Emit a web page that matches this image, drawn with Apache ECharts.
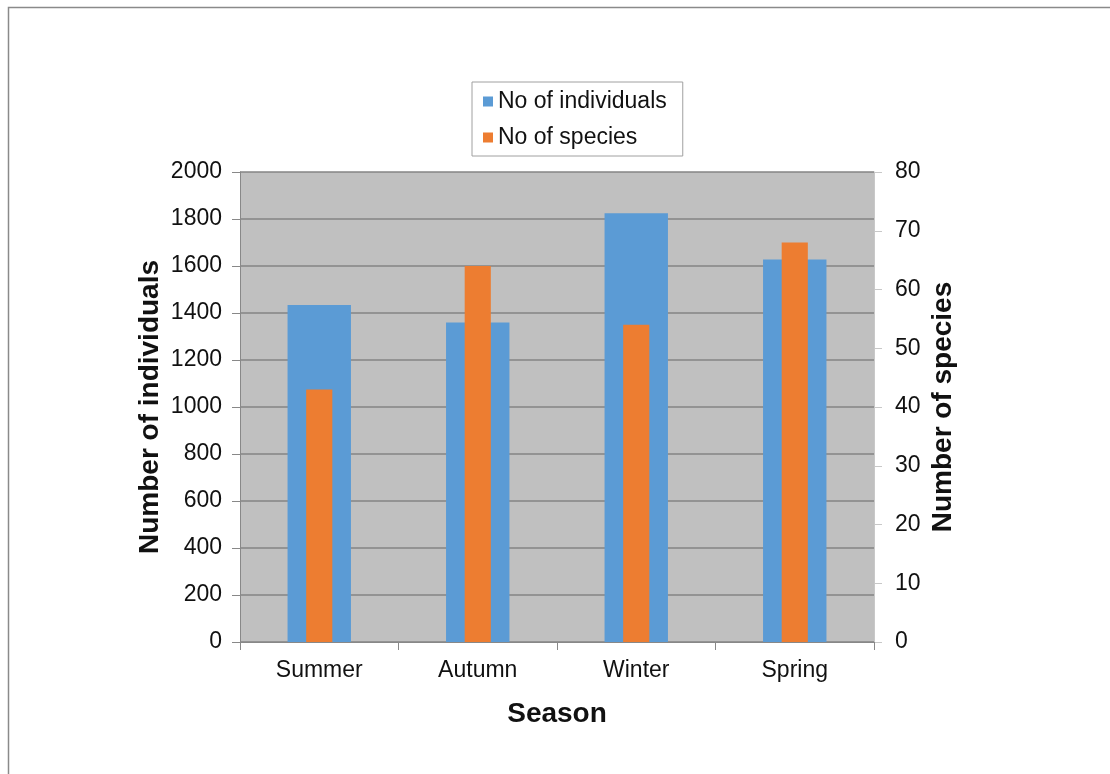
<!DOCTYPE html>
<html>
<head>
<meta charset="utf-8">
<script src="https://cdn.jsdelivr.net/npm/echarts@6/dist/echarts.min.js"></script>
<style>html,body{margin:0;padding:0;background:#fff;}#c{width:1110px;height:774px;}</style>
</head>
<body>
<div id="c"></div>
<script>
const categories = ['Summer', 'Autumn', 'Winter', 'Spring'];
const individuals = [1434, 1360, 1825, 1628];
const species = [43, 64, 54, 68];
const leftTicks = {min: 0, max: 2000, interval: 200};
const rightTicks = {min: 0, max: 80, interval: 10};

const chart = echarts.init(document.getElementById('c'));
const font = 'Liberation Sans, Arial, sans-serif';
chart.setOption({
  animation: false,
  backgroundColor: '#fff',
  graphic: [{
    type: 'rect', silent: true,
    shape: {x: 8.5, y: 7.5, width: 1300, height: 900},
    style: {fill: 'none', stroke: '#8a8a8a', lineWidth: 1.5}
  }],
  legend: {
    orient: 'vertical', left: 472, top: 82, icon: 'rect',
    itemWidth: 10, itemHeight: 10, itemGap: 13,
    padding: [8, 16, 7, 11],
    borderColor: '#a0a0a0', borderWidth: 1, backgroundColor: '#fff',
    textStyle: {fontFamily: font, fontSize: 23, color: '#111'},
    data: ['No of individuals', 'No of species']
  },
  grid: {left: 240, right: 236, top: 172, bottom: 132, show: true, backgroundColor: '#C0C0C0', borderWidth: 0},
  xAxis: [{
    type: 'category', data: categories,
    name: 'Season', nameLocation: 'middle', nameGap: 58,
    nameTextStyle: {fontFamily: font, fontSize: 28, fontWeight: 'bold', color: '#111'},
    axisLine: {lineStyle: {color: '#888'}},
    axisTick: {show: true, length: 8, lineStyle: {color: '#888'}},
    axisLabel: {fontFamily: font, fontSize: 23, color: '#111', margin: 17}
  }, {
    type: 'category', data: categories, show: false
  }],
  yAxis: [{
    type: 'value', min: leftTicks.min, max: leftTicks.max, interval: leftTicks.interval,
    name: 'Number of individuals', nameLocation: 'middle', nameGap: 76, nameRotate: 90,
    nameMoveOverlap: false,
    nameTextStyle: {fontFamily: font, fontSize: 28, fontWeight: 'bold', color: '#111'},
    axisLine: {show: true, lineStyle: {color: '#888'}},
    axisTick: {show: true, length: 8, lineStyle: {color: '#888'}},
    axisLabel: {fontFamily: font, fontSize: 23, color: '#111', margin: 18, formatter: v => String(v)},
    splitLine: {show: true, lineStyle: {color: '#848484', width: 1.5}}
  }, {
    type: 'value', min: rightTicks.min, max: rightTicks.max, interval: rightTicks.interval,
    position: 'right',
    name: 'Number of species', nameLocation: 'middle', nameGap: 55, nameRotate: 90,
    nameMoveOverlap: false,
    nameTextStyle: {fontFamily: font, fontSize: 28, fontWeight: 'bold', color: '#111'},
    axisLine: {show: true, lineStyle: {color: '#c8c8c8'}},
    axisTick: {show: true, length: 8, lineStyle: {color: '#c8c8c8'}},
    axisLabel: {fontFamily: font, fontSize: 23, color: '#111', margin: 21, formatter: v => String(v)},
    splitLine: {show: false}
  }],
  series: [{
    name: 'No of individuals', type: 'bar', xAxisIndex: 0, yAxisIndex: 0,
    data: individuals, barWidth: '40%', itemStyle: {color: '#5B9BD5'}
  }, {
    name: 'No of species', type: 'bar', xAxisIndex: 1, yAxisIndex: 1,
    data: species, barWidth: '16.5%', itemStyle: {color: '#ED7D31'}
  }]
});
</script>
</body>
</html>
